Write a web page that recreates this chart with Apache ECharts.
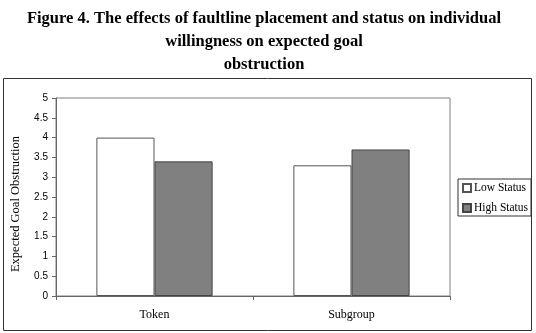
<!DOCTYPE html>
<html>
<head>
<meta charset="utf-8">
<script src="https://cdn.jsdelivr.net/npm/echarts@6/dist/echarts.min.js"></script>
<style>
  html, body { margin: 0; padding: 0; background: #ffffff; }
  #chart { width: 536px; height: 333px; }
</style>
</head>
<body>
<div id="chart"></div>
<script>
// data
const categories = ['Token', 'Subgroup']
const lowStatus = [4.0, 3.3]
const highStatus = [3.4, 3.7]
const yTicks = { min: 0, max: 5, interval: 0.5 }

const serif = '"Liberation Serif", "Times New Roman", serif'
const sans = '"Liberation Sans", Arial, sans-serif'

const chart = echarts.init(document.getElementById('chart'))
chart.setOption({
  animation: false,
  title: {
    text: 'Figure 4. The effects of faultline placement and status on individual\nwillingness on expected goal\nobstruction',
    left: 259,
    top: 2,
    textAlign: 'center',
    textStyle: {
      fontFamily: serif,
      fontWeight: 'bold',
      fontSize: 16.5,
      lineHeight: 23,
      color: '#000'
    }
  },
  graphic: [
    {
      type: 'rect',
      shape: { x: 3.5, y: 78.5, width: 528, height: 252 },
      style: { fill: 'none', stroke: '#333', lineWidth: 1 },
      z: -1
    }
  ],
  legend: {
    orient: 'vertical',
    left: 458,
    top: 179,
    padding: [3, 3, 2, 4],
    itemGap: 8,
    itemWidth: 8,
    itemHeight: 8,
    borderColor: '#333',
    borderWidth: 1,
    icon: 'rect',
    textStyle: { fontFamily: serif, fontSize: 11.5, color: '#000', padding: [0, 0, 0, -2] },
    data: ['Low Status', 'High Status']
  },
  grid: {
    left: 56,
    right: 86,
    top: 98,
    bottom: 37,
    show: true,
    borderColor: '#808080',
    borderWidth: 1
  },
  xAxis: {
    type: 'category',
    data: categories,
    axisLine: { lineStyle: { color: '#666' } },
    axisTick: { show: true, length: 4, interval: 0, lineStyle: { color: '#666' } },
    axisLabel: { fontFamily: serif, fontSize: 12, color: '#000', margin: 13 }
  },
  yAxis: {
    type: 'value',
    min: yTicks.min,
    max: yTicks.max,
    interval: yTicks.interval,
    name: 'Expected Goal Obstruction',
    nameLocation: 'middle',
    nameGap: 34,
    nameTextStyle: { fontFamily: serif, fontSize: 12.5, color: '#000', padding: [0, 0, 0, -14] },
    axisLine: { show: true, lineStyle: { color: '#666' } },
    axisTick: { show: true, length: 4, lineStyle: { color: '#666' } },
    splitLine: { show: false },
    axisLabel: { fontFamily: sans, fontSize: 10, color: '#000', margin: 8 }
  },
  series: [
    {
      name: 'Low Status',
      type: 'bar',
      data: lowStatus,
      barGap: '0%',
      barCategoryGap: '41%',
      itemStyle: { color: '#ffffff', borderColor: '#555', borderWidth: 1 }
    },
    {
      name: 'High Status',
      type: 'bar',
      data: highStatus,
      itemStyle: { color: '#808080', borderColor: '#444', borderWidth: 1 }
    }
  ]
})
</script>
</body>
</html>
